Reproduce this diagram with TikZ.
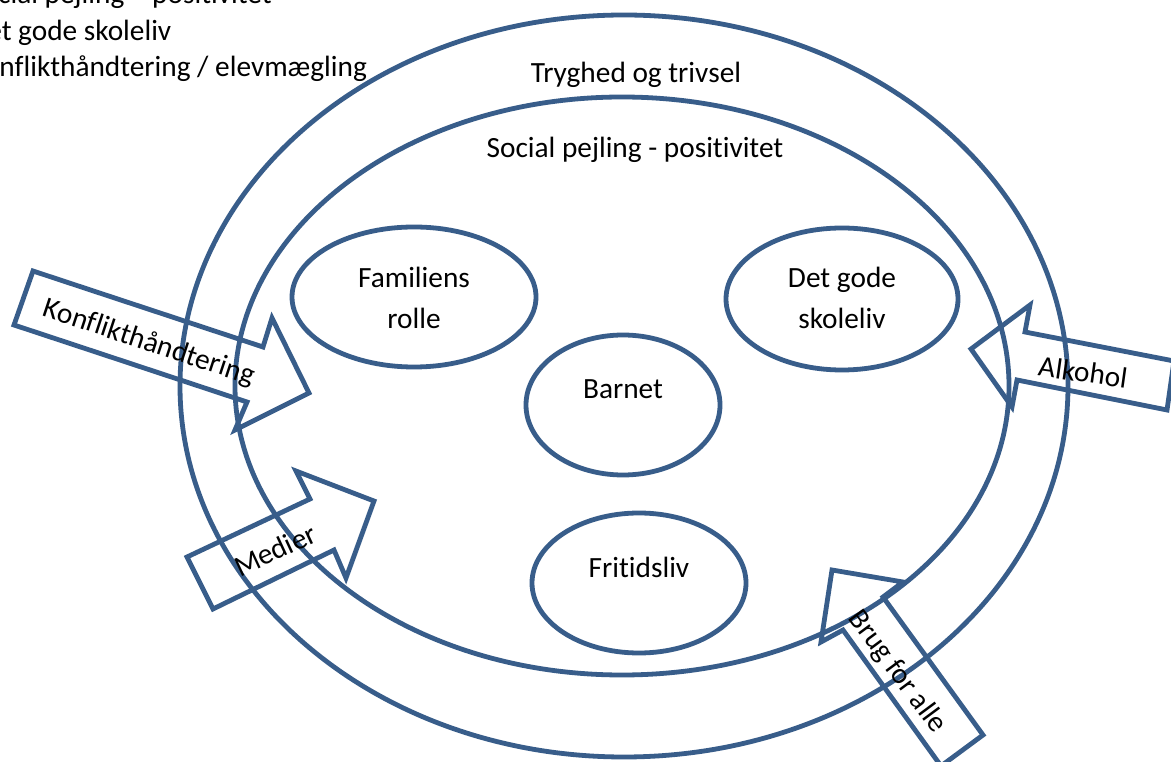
\documentclass[tikz,border=0pt]{standalone}
\usepackage{fontspec}
\setmainfont{Carlito}[Ligatures=NoCommon]
\usetikzlibrary{shapes.geometric}
\definecolor{lineblue}{RGB}{56,93,138}
\tikzset{
  oval/.style={ellipse, draw=lineblue, line width=3.6pt, inner sep=0pt},
  bigarrow/.style={draw=lineblue, line width=3.6pt, line join=miter},
  lbl/.style={inner sep=0pt, anchor=base, font=\fontsize{22}{26}\selectfont, text=black},
  lst/.style={inner sep=0pt, anchor=base west, font=\fontsize{22}{26}\selectfont, text=black},
  rlbl/.style={inner sep=0pt, anchor=center, font=\fontsize{22}{26}\selectfont, text=black}
}
\begin{document}
\begin{tikzpicture}[x=0.75pt,y=-0.75pt]
\useasboundingbox (0,0) rectangle (1171,762);
\clip (0,0) rectangle (1171,762);
\fill[white] (0,0) rectangle (1171,762);

% list text at top left (cut by the left edge)
\node[lst] (l1) at (-31,4) {Social pejling – positivitet};
\node[lst] (l2) at (-31,41) {Det gode skoleliv};
\node[lst] (l3) at (-31,77) {Konflikthåndtering / elevmægling};

% rings
\node[oval, minimum width=666pt, minimum height=556.5pt] (outer) at (624,386) {};
\node[oval, minimum width=580.5pt, minimum height=433.5pt] (inner) at (622,386) {};

% small ovals
\node[oval, minimum width=183pt, minimum height=105pt] (fam) at (414,297) {};
\node[oval, minimum width=174pt, minimum height=106.5pt] (skole) at (842,299) {};
\node[oval, minimum width=145.5pt, minimum height=105pt] (barn) at (623,405) {};
\node[oval, minimum width=160.5pt, minimum height=105pt] (frit) at (639,583) {};

% labels
\node[lbl] (t1) at (636,83) {Tryghed og trivsel};
\node[lbl] (t2) at (635,158) {Social pejling - positivitet};
\node[lbl] (fa1) at (414,288) {Familiens};
\node[lbl] (fa2) at (414,329) {rolle};
\node[lbl] (sk1) at (842,288) {Det gode};
\node[lbl] (sk2) at (842,329) {skoleliv};
\node[lbl] (ba) at (623,399) {Barnet};
\node[lbl] (fr) at (639,577) {Fritidsliv};

% block arrows
\draw[bigarrow] (33,271) -- (263,347) -- (272,318) -- (309,393) -- (235,430) -- (247,402) -- (14,325) -- cycle;
\draw[bigarrow] (187,557) -- (310,499) -- (296,471) -- (374,501) -- (346,578) -- (334,550) -- (213,609) -- cycle;
\draw[bigarrow] (971,349) -- (1030,305) -- (1025,332) -- (1174,361) -- (1167,410) -- (1017,380) -- (1012,407) -- cycle;
\draw[bigarrow] (832,570) -- (903,582) -- (883,597) -- (983,735) -- (941,766) -- (843,630) -- (821,642) -- cycle;

% arrow texts
\node[rlbl, rotate=-18.3] (ak) at (149,343) {Konflikthåndtering};
\node[rlbl, rotate=25] (am) at (275,550) {Medier};
\node[rlbl, rotate=-8] (aa) at (1083,372) {Alkohol};
\node[rlbl, rotate=-53.4] (ab) at (897,672) {Brug for alle};
\end{tikzpicture}
\end{document}
